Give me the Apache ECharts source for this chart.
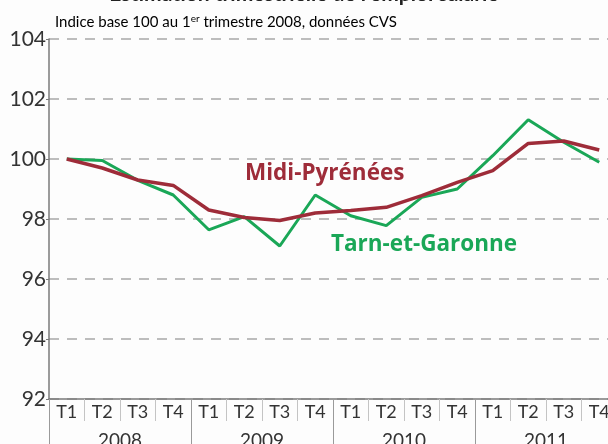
<!DOCTYPE html>
<html>
<head>
<meta charset="utf-8">
<script src="https://cdn.jsdelivr.net/npm/echarts@6/dist/echarts.min.js"></script>
<style>
  html, body { margin: 0; padding: 0; background: #fdfdfd; }
  #chart { width: 608px; height: 444px; }
</style>
</head>
<body>
<div id="chart"></div>
<script>
var quarters = ['T1','T2','T3','T4','T1','T2','T3','T4','T1','T2','T3','T4','T1','T2','T3','T4'];
var years = ['2008', '2009', '2010', '2011'];
var midiPyrenees = [100.0, 99.7, 99.3, 99.12, 98.3, 98.05, 97.95, 98.2, 98.28, 98.39, 98.78, 99.22, 99.61, 100.52, 100.6, 100.3];
var tarnEtGaronne = [100.0, 99.95, 99.29, 98.8, 97.64, 98.08, 97.1, 98.8, 98.11, 97.78, 98.72, 99.0, 100.11, 101.31, 100.56, 99.89];

var font = 'Lato';
var labelFont = '"Open Sans"';
var red = '#9e2c39';
var green = '#1aa757';

var chart = echarts.init(document.getElementById('chart'));
var option = {
  backgroundColor: '#fdfdfd',
  animation: false,
  textStyle: { fontFamily: font },
  // the reference is cropped: year labels and the last column run off the picture
  grid: { left: 49, top: 39, bottom: 45, right: -9, outerBoundsMode: 'none', containLabel: false },
  xAxis: [{
    type: 'category',
    data: quarters,
    boundaryGap: true,
    axisLine: { lineStyle: { color: '#7a7a7a', width: 1.5 } },
    axisTick: { show: true, interval: 0, length: 22, lineStyle: { color: '#c4c4c4', width: 1 } },
    axisLabel: { interval: 0, color: '#333', fontSize: 18, margin: 4 }
  }, {
    type: 'category',
    data: years,
    position: 'bottom',
    boundaryGap: true,
    axisLine: { show: false },
    axisTick: { show: true, interval: 0, length: 50, lineStyle: { color: '#9a9a9a', width: 1 } },
    axisLabel: { interval: 0, color: '#333', fontSize: 19, margin: 32 }
  }],
  yAxis: {
    type: 'value',
    min: 92,
    max: 104,
    interval: 2,
    axisLine: { show: true, lineStyle: { color: '#7a7a7a', width: 1.5 } },
    axisTick: { show: true, length: 3, lineStyle: { color: '#7a7a7a' } },
    axisLabel: { color: '#333', fontSize: 21, margin: 3 },
    splitLine: { lineStyle: { color: '#a8a8a8', width: 1.5, type: [10, 8] } }
  },
  series: [{
    name: 'Tarn-et-Garonne',
    type: 'line',
    data: tarnEtGaronne,
    symbol: 'none',
    lineStyle: { color: green, width: 3 }
  }, {
    name: 'Midi-Pyrénées',
    type: 'line',
    data: midiPyrenees,
    symbol: 'none',
    lineStyle: { color: red, width: 3.5 }
  }],
  graphic: [{
    type: 'text',
    left: 'center',
    top: -16,
    style: { text: "Estimation trimestrielle de l'emploi salarié", font: 'bold 21px ' + font, fill: '#222' }
  }, {
    type: 'text',
    left: 55,
    top: 14,
    style: {
      text: '{a|Indice base 100 au 1}{s|er}{a| trimestre 2008, données CVS}',
      rich: {
        a: { fontFamily: font, fontSize: 15, color: '#333' },
        s: { fontFamily: font, fontSize: 10, color: '#333', verticalAlign: 'top', padding: [0, 0, 6, 0] }
      }
    }
  }, {
    type: 'text',
    left: 245,
    top: 162,
    style: { text: 'Midi-Pyrénées', font: 'bold 22.5px ' + labelFont, fill: red }
  }, {
    type: 'text',
    left: 331,
    top: 233,
    style: { text: 'Tarn-et-Garonne', font: 'bold 22.5px ' + labelFont, fill: green }
  }]
};
chart.setOption(option);
</script>
</body>
</html>
